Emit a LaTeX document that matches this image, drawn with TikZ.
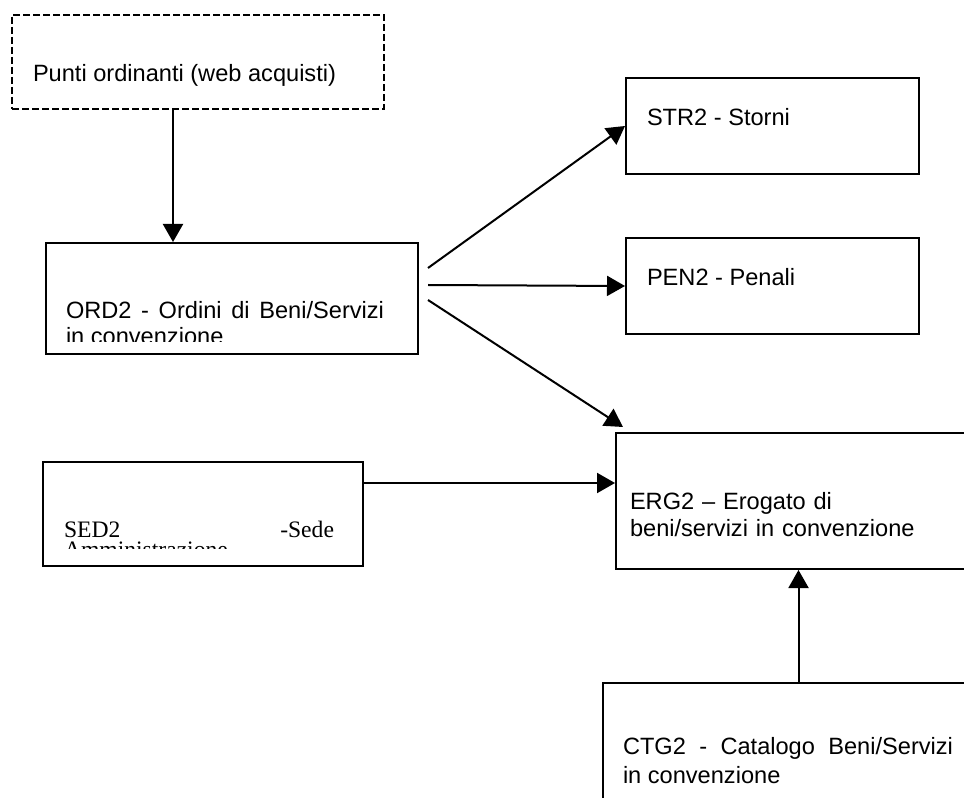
\documentclass[tikz,border=0pt]{standalone}
\usepackage{fontspec}
\setmainfont{Liberation Sans}
\newfontfamily\serifed{Liberation Serif}
\usetikzlibrary{arrows.meta,positioning}

\begin{document}
\begin{tikzpicture}[x=0.75pt, y=-0.75pt, line width=1.5pt,
  box/.style={draw, rectangle, anchor=north west, inner sep=0pt},
  txt/.style={anchor=base west, inner sep=0pt, font=\fontsize{17.7}{20.5}\selectfont},
  arr/.style={-{Triangle[length=13.5pt,width=15pt]}}]

   \useasboundingbox (0,0) rectangle (964,798);

   % Define the boxes
   \node[box, dash pattern=on 5.25pt off 2.25pt, minimum width=279pt, minimum height=70.5pt] (punti) at (11,14) {};
   \node[box, minimum width=279pt, minimum height=83.25pt] (ord) at (45,242) {};
   \node[box, minimum width=219.75pt, minimum height=72pt] (str) at (625,77) {};
   \node[box, minimum width=219.75pt, minimum height=72pt] (pen) at (625,237) {};
   \node[box, minimum width=273.75pt, minimum height=102pt] (erg) at (615,432) {};
   \node[box, minimum width=240pt, minimum height=78pt] (sed) at (42,461) {};
   \node[box, minimum width=285pt, minimum height=97.5pt] (ctg) at (602,682) {};

   % Texts of the boxes
   \node[txt] (punti_t) at (32,82) {Punti ordinanti (web acquisti)};
   \begin{scope}
     \clip (ord.north west) rectangle ([shift={(0,-13)}]ord.south east);
     \node[txt, font=\fontsize{17.7}{19}\selectfont, text width=238.5pt, align=justify] (ord_t) at (65,319) {ORD2 - Ordini di Beni/Servizi\linebreak in convenzione};
   \end{scope}
   \node[txt] (str_t) at (646,126) {STR2 - Storni};
   \node[txt] (pen_t) at (646,286) {PEN2 - Penali};
   \node[txt, font=\fontsize{17.7}{20.25}\selectfont, text width=250pt, align=left] (erg_t) at (629,509) {ERG2 – Erogato di\\beni/servizi in convenzione};
   \begin{scope}
     \clip (sed.north west) rectangle ([shift={(0,-18.5)}]sed.south east);
     \node[txt, font=\fontsize{17.7}{15.2}\selectfont, text width=202.5pt, align=justify] (sed_t) at (63,537) {\serifed SED2 -Sede\linebreak Amministrazione};
   \end{scope}
   \node[txt, font=\fontsize{17.7}{21.75}\selectfont, text width=247.5pt, align=justify] (ctg_t) at (622,754) {CTG2 - Catalogo Beni/Servizi\linebreak in convenzione};

   % Define arrows
   \draw[arr] ([shift={(-25,0)}]punti.south) -- ([shift={(-59,0)}]ord.north);
   \draw[arr] ([shift={(9,26)}]ord.north east) -- (str.west);
   \draw[arr] ([shift={(9,43)}]ord.north east) -- (pen.west);
   \draw[arr] ([shift={(9,58)}]ord.north east) -- ([shift={(8,-5)}]erg.north west);
   \draw[arr] ([shift={(0,22)}]sed.north east) coordinate (sed_out) -- (sed_out -| erg.west);
   \draw[arr] (ctg.north -| erg.south) -- (erg.south);

\end{tikzpicture}
\end{document}
